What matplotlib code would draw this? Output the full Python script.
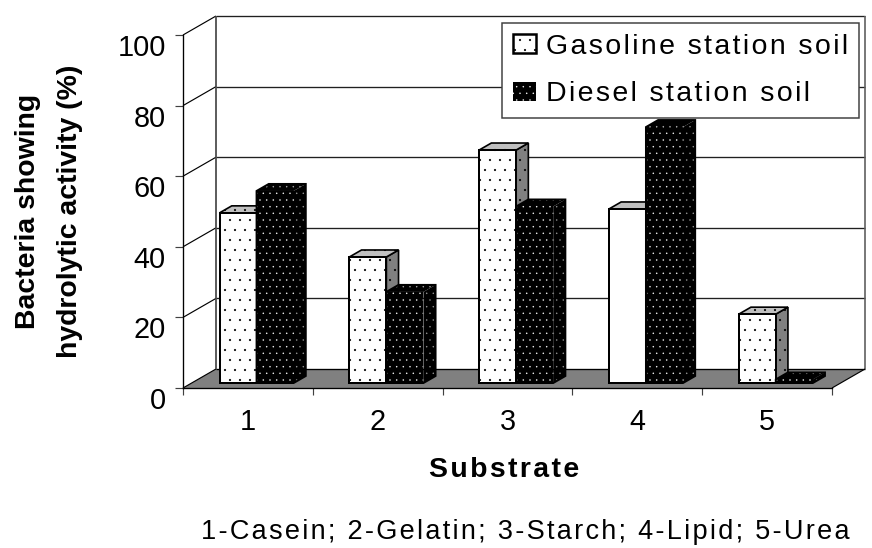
import matplotlib
matplotlib.use('Agg')
import matplotlib.pyplot as plt
import numpy as np
from matplotlib.patches import Patch, Polygon
from matplotlib.transforms import ScaledTranslation

categories = ['1', '2', '3', '4', '5']
gasoline = [48.2, 35.7, 66, 49.3, 19.5]
diesel = [54.4, 25.8, 50, 72.5, 1]
y_ticks = [0, 20, 40, 60, 80, 100]

W, H = 872, 548
DPI = 120
plt.rcParams['font.family'] = ['Liberation Sans', 'DejaVu Sans']
plt.rcParams['hatch.linewidth'] = 0.1


def spaced(s):
    # the original has wide letter spacing
    return '\u200a'.join(s)


fig = plt.figure(figsize=(W / DPI, H / DPI), dpi=DPI)
ax = fig.add_axes([183 / W, 1 - 388 / H, 649 / W, 353 / H])
ax.set_xlim(0, 5)
ax.set_ylim(0, 100)
ax.patch.set_visible(False)

# depth of the box in data units
dx = 33 / (649 / 5)
dy = 19 / 3.53


def pt(x, y, z):
    return (x + z * dx, y + z * dy)


def poly(points, **kw):
    ax.add_patch(Polygon(points, closed=True, clip_on=False, **kw))


def wall_line(xs, ys, color='black', lw=0.7, z=1):
    ax.plot(xs, ys, color=color, lw=lw, clip_on=False, zorder=z, solid_capstyle='butt')


# floor
poly([pt(0, 0, 0), pt(5, 0, 0), pt(5, 0, 1), pt(0, 0, 1)],
     facecolor='#808080', edgecolor='none', zorder=1)

# walls and gridlines
for v in y_ticks:
    a = pt(0, v, 0)
    b = pt(0, v, 1)
    c = pt(5, v, 1)
    wall_line([a[0], b[0]], [a[1], b[1]], lw=0.7)
    wall_line([b[0], c[0]], [b[1], c[1]], color='#202020' if v else 'black', lw=0.8)
b0 = pt(0, 0, 1)
b1 = pt(0, 100, 1)
wall_line([b0[0], b1[0]], [b0[1], b1[1]], color='#404040', lw=1.0)
r0 = pt(5, 0, 1)
r1 = pt(5, 100, 1)
f1 = pt(5, 0, 0)
wall_line([r0[0], r1[0]], [r0[1], r1[1]], color='#606060', lw=1.0)
wall_line([f1[0], r0[0]], [f1[1], r0[1]], color='black', lw=0.7)

# bars
bar_w = 37 / (649 / 5)
z0, z1 = 5 / 19, 12 / 19
z = 3
for i, (g, d) in enumerate(zip(gasoline, diesel)):
    c = i + 0.5
    # gasoline bar, the fourth one has no dots in the original
    x0, x1 = c - bar_w, c
    front_hatch = None if i == 3 else '..'
    poly([pt(x1, 0, z0), pt(x1, g, z0), pt(x1, g, z1), pt(x1, 0, z1)],
         facecolor='#808080', edgecolor='black', lw=1.0, hatch='..', zorder=z)
    poly([pt(x0, g, z0), pt(x1, g, z0), pt(x1, g, z1), pt(x0, g, z1)],
         facecolor='#c0c0c0', edgecolor='black', lw=1.0, hatch='..', zorder=z)
    poly([pt(x0, 0, z0), pt(x1, 0, z0), pt(x1, g, z0), pt(x0, g, z0)],
         facecolor='white', edgecolor='black', lw=1.2, hatch=front_hatch, zorder=z + 1)
    # diesel bar
    x0, x1 = c, c + bar_w
    poly([pt(x1, 0, z0), pt(x1, d, z0), pt(x1, d, z1), pt(x1, 0, z1)],
         facecolor='black', edgecolor='#9a9a9a', lw=0, hatch='...', zorder=z + 2)
    poly([pt(x0, d, z0), pt(x1, d, z0), pt(x1, d, z1), pt(x0, d, z1)],
         facecolor='black', edgecolor='#b0b0b0', lw=0, hatch='...', zorder=z + 2)
    poly([pt(x0, 0, z0), pt(x1, 0, z0), pt(x1, d, z0), pt(x0, d, z0)],
         facecolor='black', edgecolor='white', lw=0, hatch='...', zorder=z + 3)
    # black outline of the diesel bar
    poly([pt(x0, 0, z0), pt(x1, 0, z0), pt(x1, 0, z1), pt(x1, d, z1), pt(x0, d, z1), pt(x0, d, z0)],
         facecolor='none', edgecolor='black', lw=1.2, zorder=z + 3)
    z += 4

# axes
for s in ['top', 'right']:
    ax.spines[s].set_visible(False)
ax.spines['left'].set_linewidth(0.8)
ax.spines['bottom'].set_linewidth(0.8)
ax.spines['left'].set_zorder(2)
ax.set_yticks(y_ticks)
ax.tick_params(axis='y', labelsize=17.3, length=4.8, width=0.7, color='#404040', pad=5.4)
# the numbers hang below their ticks in the original
down = ScaledTranslation(0, -10 / DPI, fig.dpi_scale_trans)
for lab in ax.get_yticklabels():
    lab.set_transform(lab.get_transform() + down)
ax.set_xticks(np.arange(6))
ax.set_xticklabels([])
ax.tick_params(axis='x', which='major', length=4.2, width=0.7, color='#404040')
ax.set_xticks(np.arange(5) + 0.5, minor=True)
ax.set_xticklabels(categories, minor=True)
ax.tick_params(axis='x', which='minor', length=0, labelsize=17.3, pad=12)

ax.set_ylabel('Bacteria showing\nhydrolytic activity (%)', fontsize=17, fontweight='bold', linespacing=1.8)
ax.yaxis.set_label_coords((83 - 183) / 649, (388 - 211) / 353)
ax.set_xlabel(spaced('Substrate'), fontsize=17, fontweight='bold')
ax.xaxis.set_label_coords((504 - 183) / 649, (388 - 457) / 353)

fig.text(525.5 / W, 1 - 532 / H, spaced('1-Casein; 2-Gelatin; 3-Starch; 4-Lipid; 5-Urea'),
         fontsize=16.3, ha='center', va='center')

handles = [Patch(facecolor='white', edgecolor='black', hatch='..', lw=1.5),
           Patch(facecolor='black', edgecolor='white', hatch='...', lw=0)]
leg = ax.legend(handles, [spaced('Gasoline station soil'), spaced('Diesel station soil')],
                loc='upper right', bbox_to_anchor=(859 / W, 1 - 23 / H),
                bbox_transform=fig.transFigure, fontsize=17.1, fancybox=False, framealpha=1,
                edgecolor='#404040', borderaxespad=0, borderpad=0.38, labelspacing=0.75,
                handlelength=0.81, handleheight=0.64, handletextpad=0.35)
leg.set_zorder(100)
leg.get_frame().set_linewidth(0.9)

fig.savefig('out.png', dpi=DPI)
